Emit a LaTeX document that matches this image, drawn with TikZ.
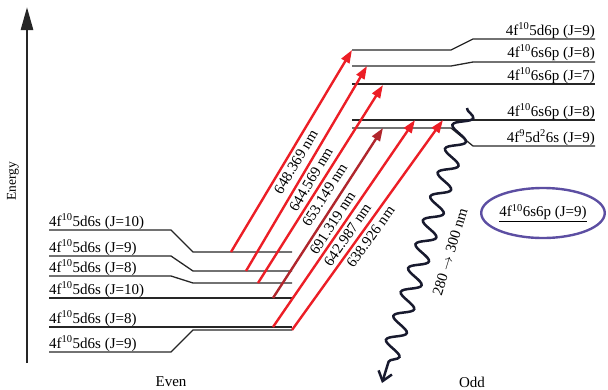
\documentclass[tikz,border=0pt]{standalone}
\usepackage{fontspec}
\setmainfont{Liberation Serif}
\usepackage{xcolor}
\usepackage{tikz}
\usetikzlibrary{arrows.meta, decorations.pathmorphing, shapes.geometric}

\definecolor{laserred}{RGB}{236,30,38}
\definecolor{darklaser}{RGB}{176,38,44}
\definecolor{wavenavy}{RGB}{24,26,46}
\definecolor{ringblue}{RGB}{92,78,162}

\begin{document}
\begin{tikzpicture}[x=1pt, y=-1pt,
  level/.style={line width=1.3pt, color=black!85},
  txt/.style={font=\fontsize{15}{18}\selectfont, inner sep=0pt},
  laser/.style={line width=2.4pt, color=laserred, -{Triangle[length=13pt, width=9pt]}},
  nmlabel/.style={txt, sloped, pos=0.47, below=3pt, text=black}]

\useasboundingbox (0,0) rectangle (608,389);

\coordinate (axbot) at (27,363);
\coordinate (axtop) at (27,7);
\draw[line width=2.6pt, color=black!85, -{Triangle[length=23pt, width=12pt]}] (axbot) -- (axtop);
\node[txt, font=\fontsize{13.5}{16}\selectfont, rotate=90] (energy) at (13,181) {Energy};
\node[txt] (even) at (171,382) {Even};
\node[txt] (odd) at (472,382) {Odd};


\coordinate (e1a) at (49,230); \coordinate (e1b) at (171,230); \coordinate (e1c) at (193,252); \coordinate (e1d) at (292,252);
\coordinate (e2a) at (49,256); \coordinate (e2b) at (171,256); \coordinate (e2c) at (193,271); \coordinate (e2d) at (292,271);
\coordinate (e3a) at (49,276); \coordinate (e3b) at (171,276); \coordinate (e3c) at (193,283); \coordinate (e3d) at (292,283);
\coordinate (e4a) at (49,298); \coordinate (e4d) at (292,298);
\coordinate (e5a) at (49,327); \coordinate (e5d) at (292,327);
\coordinate (e6a) at (49,352); \coordinate (e6b) at (171,352); \coordinate (e6c) at (193,330); \coordinate (e6d) at (292,330);
\draw[level] (e1a) -- (e1b) -- (e1c) -- (e1d);
\draw[level] (e2a) -- (e2b) -- (e2c) -- (e2d);
\draw[level] (e3a) -- (e3b) -- (e3c) -- (e3d);
\draw[level] (e4a) -- (e4d);
\draw[level] (e5a) -- (e5d);
\draw[level] (e6a) -- (e6b) -- (e6c) -- (e6d);
\node[txt, anchor=base west] (le1) at (49,226) {4f\textsuperscript{10}5d6s (J=10)};
\node[txt, anchor=base west] (le2) at (49,252) {4f\textsuperscript{10}5d6s (J=9)};
\node[txt, anchor=base west] (le3) at (49,272) {4f\textsuperscript{10}5d6s (J=8)};
\node[txt, anchor=base west] (le4) at (49,294) {4f\textsuperscript{10}5d6s (J=10)};
\node[txt, anchor=base west] (le5) at (49,323) {4f\textsuperscript{10}5d6s (J=8)};
\node[txt, anchor=base west] (le6) at (49,348) {4f\textsuperscript{10}5d6s (J=9)};


\coordinate (o1a) at (352,50); \coordinate (o1b) at (451,50); \coordinate (o1c) at (473,39); \coordinate (o1d) at (595,39);
\coordinate (o2a) at (352,66); \coordinate (o2b) at (451,66); \coordinate (o2c) at (473,62); \coordinate (o2d) at (595,62);
\coordinate (o3a) at (352,84); \coordinate (o3d) at (595,84);
\coordinate (o4a) at (352,120); \coordinate (o4d) at (595,120);
\coordinate (o5a) at (352,128); \coordinate (o5b) at (451,128); \coordinate (o5c) at (473,146); \coordinate (o5d) at (595,146);
\draw[level] (o1a) -- (o1b) -- (o1c) -- (o1d);
\draw[level] (o2a) -- (o2b) -- (o2c) -- (o2d);
\draw[level] (o3a) -- (o3d);
\draw[level] (o4a) -- (o4d);
\draw[level] (o5a) -- (o5b) -- (o5c) -- (o5d);
\node[txt, anchor=base east] (lo1) at (595,35) {4f\textsuperscript{10}5d6p (J=9)};
\node[txt, anchor=base east] (lo2) at (595,57) {4f\textsuperscript{10}6s6p (J=8)};
\node[txt, anchor=base east] (lo3) at (595,80) {4f\textsuperscript{10}6s6p (J=7)};
\node[txt, anchor=base east] (lo4) at (595,116) {4f\textsuperscript{10}6s6p (J=8)};
\node[txt, anchor=base east] (lo5) at (595,142) {4f\textsuperscript{9}5d\textsuperscript{2}6s (J=9)};


\coordinate (s1) at (231,252); \coordinate (t1) at (352,50);
\coordinate (s2) at (246,271); \coordinate (t2) at (367,66);
\coordinate (s3) at (258,283); \coordinate (t3) at (383,85);
\coordinate (s4) at (273,298); \coordinate (t4) at (383,128);
\coordinate (s5) at (273,327); \coordinate (t5) at (415,120);
\coordinate (s6) at (292,330); \coordinate (t6) at (443,120);
\draw[laser] (s1) -- (t1) node[nmlabel] {648.369 nm};
\draw[laser] (s2) -- (t2) node[nmlabel] {644.569 nm};
\draw[laser] (s3) -- (t3) node[nmlabel] {653.149 nm};
\draw[laser, color=darklaser] (s4) -- (t4) node[nmlabel] {691.319 nm};
\draw[laser] (s5) -- (t5) node[nmlabel] {642.987 nm};
\draw[laser] (s6) -- (t6) node[nmlabel] {638.926 nm};


\coordinate (w1) at (467,108);
\coordinate (w2) at (382,383);
\draw[line width=2.5pt, color=wavenavy, -{Straight Barb[length=9pt, width=14pt]},
  decorate, decoration={snake, segment length=25pt, amplitude=9pt, post length=22pt}] (w1) -- (w2);
\node[txt, rotate=73] (uvlabel) at (450,252) {280 $\rightarrow$ 300 nm};


\node[txt, ellipse, draw=ringblue, line width=2.4pt, minimum width=120pt, minimum height=50pt] (target) at (543,213) {\underline{4f\textsuperscript{10}6s6p (J=9)}};

\end{tikzpicture}
\end{document}
